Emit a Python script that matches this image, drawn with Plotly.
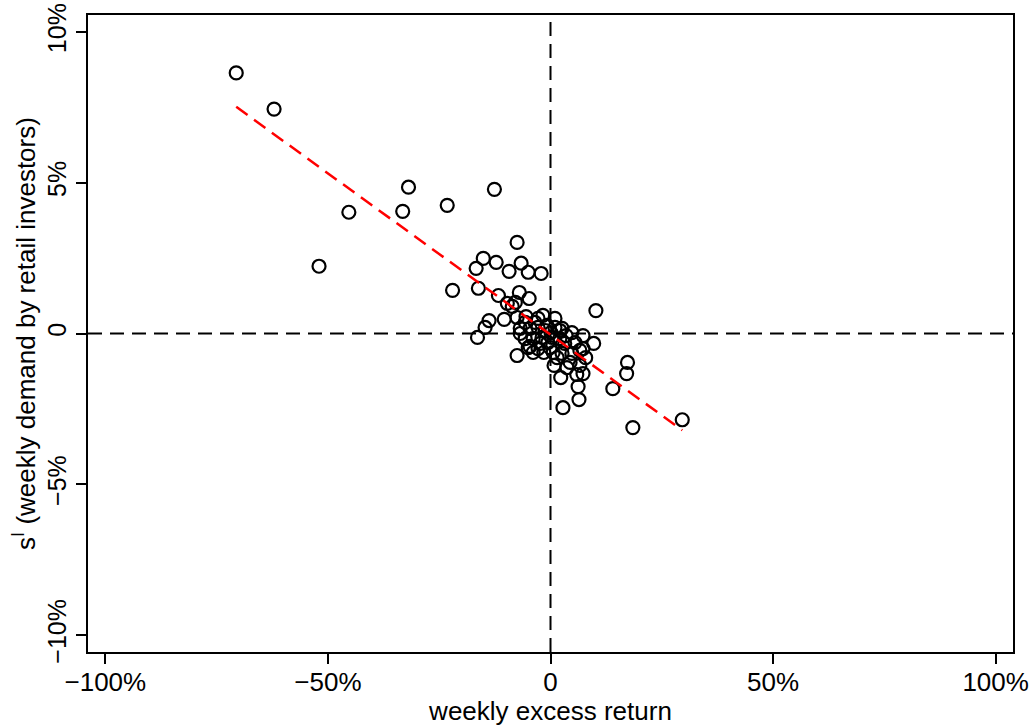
import plotly.graph_objects as go

# weekly excess return (%) and weekly demand by retail investors (%)
excess_return = [
    -70.6, -62.1, -52.0, -45.3, -33.2, -31.9, -23.2, -12.6, -22.0, -16.7,
    -15.1, -12.2, -9.3, -6.6, -5.0, -2.1, -7.5, -16.2, -11.7, -7.0,
    -4.8, -9.7, -7.9, -8.6, -13.8, -10.4, -14.7, -16.4, -7.5, -5.5,
    -2.8, -1.7, -7.5, -3.9, -4.6, 10.2, 0.8, 3.7, 6.6, 2.3,
    5.9, 7.3, 7.3, 9.7, 7.3, 7.9, 6.2, 6.4, 2.8, 14.0,
    17.3, 17.1, 18.5, 29.6,
    -6.8, -4.6, -2.8, -0.8, 1.0, 2.1, -5.7, -3.9, -1.9, 0.3,
    2.1, -5.0, -2.8, -0.1, 1.5, 2.6, 4.8, 5.5, 3.2, 2.6,
    4.8, 6.6, 4.4, -1.2, -0.6, -3.5, 1.0, -5.7, -2.3, 3.5,
    0.1, -6.8, -1.5, 0.6,
]
retail_demand = [
    8.64, 7.44, 2.23, 4.02, 4.05, 4.85, 4.25, 4.78, 1.43, 2.16,
    2.49, 2.36, 2.06, 2.33, 2.03, 1.99, 3.02, 1.50, 1.26, 1.36,
    1.16, 1.00, 1.03, 0.90, 0.43, 0.47, 0.20, -0.13, 0.53, 0.56,
    0.50, 0.60, -0.73, -0.63, -0.43, 0.76, -1.06, -1.13, -1.06, -1.46,
    -1.36, -1.33, -0.07, -0.33, -0.50, -0.80, -1.76, -2.19, -2.46, -1.83,
    -0.96, -1.33, -3.12, -2.86,
    0.17, 0.17, 0.20, 0.27, 0.20, 0.10, -0.17, -0.17, -0.13, -0.13,
    -0.17, -0.47, -0.50, -0.47, -0.80, 0.17, 0.03, -0.30, -0.33, -0.66,
    -0.66, -0.56, -0.96, 0.10, -0.30, 0.37, 0.50, 0.37, -0.33, -0.07,
    0.03, 0.00, -0.63, -0.63,
]

# fitted regression line (retail demand on excess return)
fit_slope = -0.107
fit_intercept = -0.04

x_tick_vals = [-100, -50, 0, 50, 100]
x_tick_text = ["\u2212100%", "\u221250%", "0", "50%", "100%"]
y_tick_vals = [-10, -5, 0, 5, 10]
y_tick_text = ["\u221210%", "\u22125%", "0", "5%", "10%"]

FONT = "Liberation Sans, Arial, Helvetica, sans-serif"
FS = 26

fig = go.Figure()

fig.add_trace(go.Scatter(
    x=excess_return, y=retail_demand, mode="markers",
    marker=dict(symbol="circle-open", size=13, color="black",
                line=dict(width=2.2, color="black")),
    showlegend=False, hoverinfo="skip",
))

fit_x = [min(excess_return), max(excess_return)]
fit_y = [fit_intercept + fit_slope * v for v in fit_x]
fig.add_trace(go.Scatter(
    x=fit_x, y=fit_y, mode="lines",
    line=dict(color="red", width=2.5, dash="14px,8px"),
    showlegend=False, hoverinfo="skip",
))

fig.add_shape(type="line", xref="x", yref="paper", x0=0, x1=0, y0=0, y1=1,
              line=dict(color="black", width=2, dash="14px,8px"), layer="below")
fig.add_shape(type="line", xref="paper", yref="y", x0=0, x1=1, y0=0, y1=0,
              line=dict(color="black", width=2, dash="14px,8px"), layer="below")

fig.update_layout(
    width=1036, height=726,
    margin=dict(l=88, r=23, t=15, b=74, autoexpand=False),
    paper_bgcolor="white", plot_bgcolor="white",
    font=dict(family=FONT, size=FS, color="black"),
    xaxis=dict(
        range=[-103.9, 103.9], tickvals=x_tick_vals, ticktext=x_tick_text,
        ticks="outside", ticklen=10, tickwidth=1.5, tickcolor="black",
        ticklabelstandoff=-4, ticklabeloverflow="allow",
        showline=True, mirror=True, linecolor="black", linewidth=1.5,
        showgrid=False, zeroline=False, automargin=False,
        title=dict(text="weekly excess return", standoff=0,
                   font=dict(family=FONT, size=FS)),
    ),
    yaxis=dict(
        range=[-10.56, 10.56], tickvals=y_tick_vals, ticktext=y_tick_text,
        tickangle=-90, ticklabeloverflow="allow",
        tickfont=dict(family=FONT, size=25),
        ticks="outside", ticklen=10, tickwidth=1.5, tickcolor="black",
        showline=True, mirror=True, linecolor="black", linewidth=1.5,
        showgrid=False, zeroline=False, automargin=False,
        title=dict(text="s<sup>I</sup> (weekly demand by retail investors)",
                   standoff=0, font=dict(family=FONT, size=FS)),
    ),
)

# remove the page's default body margin so the figure fills the window
fig.write_html("out.html",
               config={"displayModeBar": False},
               post_script="document.body.style.margin='0px';")
